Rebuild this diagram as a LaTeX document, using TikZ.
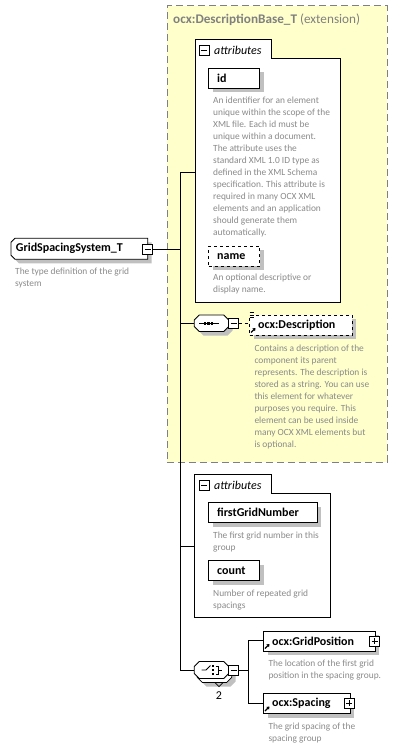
\documentclass[tikz,border=0pt]{standalone}
\usepackage{fontspec}
\setmainfont{Carlito}
\usetikzlibrary{shadows,arrows.meta}
\definecolor{descgray}{RGB}{138,138,138}
\definecolor{yel}{RGB}{255,255,204}
\definecolor{shad}{RGB}{192,192,192}
\definecolor{dashgray}{RGB}{128,128,128}
\newcommand\myoct[4]{(#1+5,#2) -- (#3-5,#2) -- (#3,#2+5) -- (#3,#4-5) -- (#3-5,#4) -- (#1+5,#4) -- (#1,#4-5) -- (#1,#2+5) -- cycle}
\begin{document}
\begin{tikzpicture}[x=1pt,y=-1pt,
  every node/.style={inner sep=0pt},
  lbl/.style={font=\bfseries\fontsize{12}{14}\selectfont},
  elbox/.style={draw=black, fill=white, anchor=north west, minimum height=20pt,
     inner xsep=8.5pt, align=left, line width=0.8pt, lbl,
     drop shadow={shadow xshift=4pt,shadow yshift=-4pt,fill=shad,opacity=1}},
  desc/.style={anchor=north west, align=left, text=descgray, font=\fontsize{9.4}{12}\selectfont},
  minusbox/.style={draw, fill=white, minimum size=10pt, line width=0.7pt,
     path picture={\draw[line width=0.7pt] ([xshift=2pt]path picture bounding box.west) -- ([xshift=-2pt]path picture bounding box.east);}},
  plusbox/.style={draw, fill=white, minimum size=10pt, line width=0.7pt,
     path picture={\draw[line width=0.7pt] ([xshift=2pt]path picture bounding box.west) -- ([xshift=-2pt]path picture bounding box.east);
                   \draw[line width=0.7pt] ([yshift=-2pt]path picture bounding box.north) -- ([yshift=2pt]path picture bounding box.south);}},
  conn/.style={line width=0.8pt},
  refarrow/.style={line width=1.3pt, -{Triangle[length=2.5pt,width=3.5pt]}},
  attrbox/.style={draw, fill=white, line width=0.8pt},
]
\useasboundingbox (0,0) rectangle (409,749);

% ---------- extension base box ----------
\node[draw=dashgray, fill=yel, line width=0.8pt, dash pattern=on 7pt off 4pt,
      anchor=north west, minimum width=220pt, minimum height=456pt] (base) at (166.5,5.5) {};
\node[anchor=west, text=dashgray, font=\fontsize{13.2}{15}\selectfont] (basetitle) at (173,20)
  {\textbf{ocx:DescriptionBase\_T} (extension)};

% ---------- attributes group 1 ----------
\draw[attrbox] (195,39.3) -- (271.7,39.3) -- (271.7,58.7) -- (340.7,58.7) -- (340.7,302.3) -- (195,302.3) -- cycle;
\node[minusbox] (a1m) at (204.3,50) {};
\node[anchor=west, font=\itshape\fontsize{12}{14}\selectfont] (a1t) at (214,50) {attributes};

\node[elbox, text width=34pt] (id) at (208.3,67.7) {id};
\node[desc] (iddesc) at (213,96.6) {An identifier for an element\\unique within the scope of the\\XML file. Each id must be\\unique within a document.\\The attribute uses the\\standard XML 1.0 ID type as\\defined in the XML Schema\\specification. This attribute is\\required in many OCX XML\\elements and an application\\should generate them\\automatically.};
\node[elbox, dashed, text width=34pt] (name) at (208.3,245.7) {name};
\node[desc] (namedesc) at (213,274.2) {An optional descriptive or\\display name.};

% ---------- sequence with Description ----------
\fill[shad, shift={(4,4)}] \myoct{194.3}{315}{228.7}{331.5};
\draw[fill=white, line width=0.8pt] \myoct{194.3}{315}{228.7}{331.5};
\node (seq) at (211.5,323.2) {};
\draw[line width=0.8pt] (199,323.2) -- (218.5,323.2);
\foreach \dx in {205,208.5,212}{\fill (\dx-1.3,321.9) rectangle (\dx+1.3,324.5);}
\node[minusbox] (seqm) at (233.5,323.5) {};

\node[elbox, dashed, text width=85.7pt] (descr) at (249.3,315) {ocx:Description};
\foreach \yy in {312.5,315,317.5}{\draw[line width=0.7pt] (249.5,\yy) -- (254,\yy);}
\draw[refarrow] (251,332.5) -- (255.5,328);
\draw[conn, dashed] (seqm.east) -- (descr.west |- seqm.east);
\node[desc] (descrdesc) at (254.3,344.9) {Contains a description of the\\component its parent\\represents. The description is\\stored as a string. You can use\\this element for whatever\\purposes you require. This\\element can be used inside\\many OCX XML elements but\\is optional.};

% ---------- root type ----------
\fill[shad, shift={(4,4)}] (15,238.3) -- (147.7,238.3) -- (147.7,259.3) -- (15,259.3) -- (11,255.3) -- (11,242.3) -- cycle;
\draw[fill=white, line width=0.8pt] (15,238.3) -- (147.7,238.3) -- (147.7,259.3) -- (15,259.3) -- (11,255.3) -- (11,242.3) -- cycle;
\node[anchor=west, lbl] (gst) at (15.7,248.8) {GridSpacingSystem\_T};
\node[minusbox] (gstm) at (147.7,249) {};
\node[desc] (gstdesc) at (15,267.6) {The type definition of the grid\\system};

% ---------- attributes group 2 ----------
\draw[attrbox] (194.3,474.3) -- (271,474.3) -- (271,493.3) -- (330,493.3) -- (330,617) -- (194.3,617) -- cycle;
\node[minusbox] (a2m) at (204.3,485) {};
\node[anchor=west, font=\itshape\fontsize{12}{14}\selectfont] (a2t) at (214,485) {attributes};
\node[elbox, text width=91.4pt] (fgn) at (208.3,502.3) {firstGridNumber};
\node[desc] (fgndesc) at (213,531.9) {The first grid number in this\\group};
\node[elbox, text width=34pt] (count) at (208.3,560.3) {count};
\node[desc] (countdesc) at (213,589.9) {Number of repeated grid\\spacings};

% ---------- choice ----------
\fill[shad, shift={(7,8)}] \myoct{194.3}{661.5}{228.7}{678.5};
\draw[fill=white, line width=0.7pt, shift={(3,4)}] \myoct{194.3}{661.5}{228.7}{678.5};
\draw[line width=0.7pt] (215,682.5) -- (219,686.5) -- (223,682.5);
\draw[fill=white, line width=0.8pt] \myoct{194.3}{661.5}{228.7}{678.5};
\node (choice) at (211.5,670) {};
\draw[line width=0.8pt] (201.5,670) -- (206,670) -- (210.5,665.5);
\foreach \yy in {666,670,674}{\fill (212,\yy-1.2) rectangle (214.4,\yy+1.2);}
\draw[line width=0.8pt] (215.5,666) -- (218.5,666) -- (218.5,674) -- (215.5,674);
\draw[line width=0.8pt] (218.5,670) -- (222,670);
\node[minusbox] (chm) at (233.7,670) {};
\node[font=\fontsize{12}{14}\selectfont] (occ) at (219,696) {2};

\node[elbox, text width=94.7pt] (gp) at (263.3,630.7) {ocx:GridPosition};
\draw[refarrow] (265,648.5) -- (269.5,644);
\node[plusbox] (gpp) at (374.7,641) {};
\node[desc] (gpdesc) at (268.3,659.9) {The location of the first grid\\position in the spacing group.};

\node[elbox, text width=69.7pt] (sp) at (263.3,693.3) {ocx:Spacing};
\draw[refarrow] (265,711) -- (269.5,706.5);
\node[plusbox] (spp) at (349.3,703.3) {};
\node[desc] (spdesc) at (268.3,722.6) {The grid spacing of the\\spacing group};

% ---------- connectors ----------
\coordinate (j0) at (180,249);
\coordinate (jtop) at (180,172);
\coordinate (jbot) at (180,670);
\coordinate (a1w) at (195,172);
\coordinate (a2w) at (194.3,546);
\coordinate (seqw) at (194.3,323.2);
\coordinate (chw) at (194.3,670);
\coordinate (k0) at (248.3,670);
\coordinate (ktop) at (248.3,640.7);
\coordinate (kbot) at (248.3,703.3);
\draw[conn] (gstm.east) -- (j0);
\draw[conn] (jtop) -- (jbot);
\draw[conn] (jtop) -- (a1w);
\draw[conn] (180,323.2) -- (seqw);
\draw[conn] (180,546) -- (a2w);
\draw[conn] (jbot) -- (chw);
\draw[conn] (chm.east) -- (k0);
\draw[conn] (ktop) -- (kbot);
\draw[conn] (ktop) -- (gp.west |- ktop);
\draw[conn] (kbot) -- (sp.west |- kbot);
\end{tikzpicture}
\end{document}
